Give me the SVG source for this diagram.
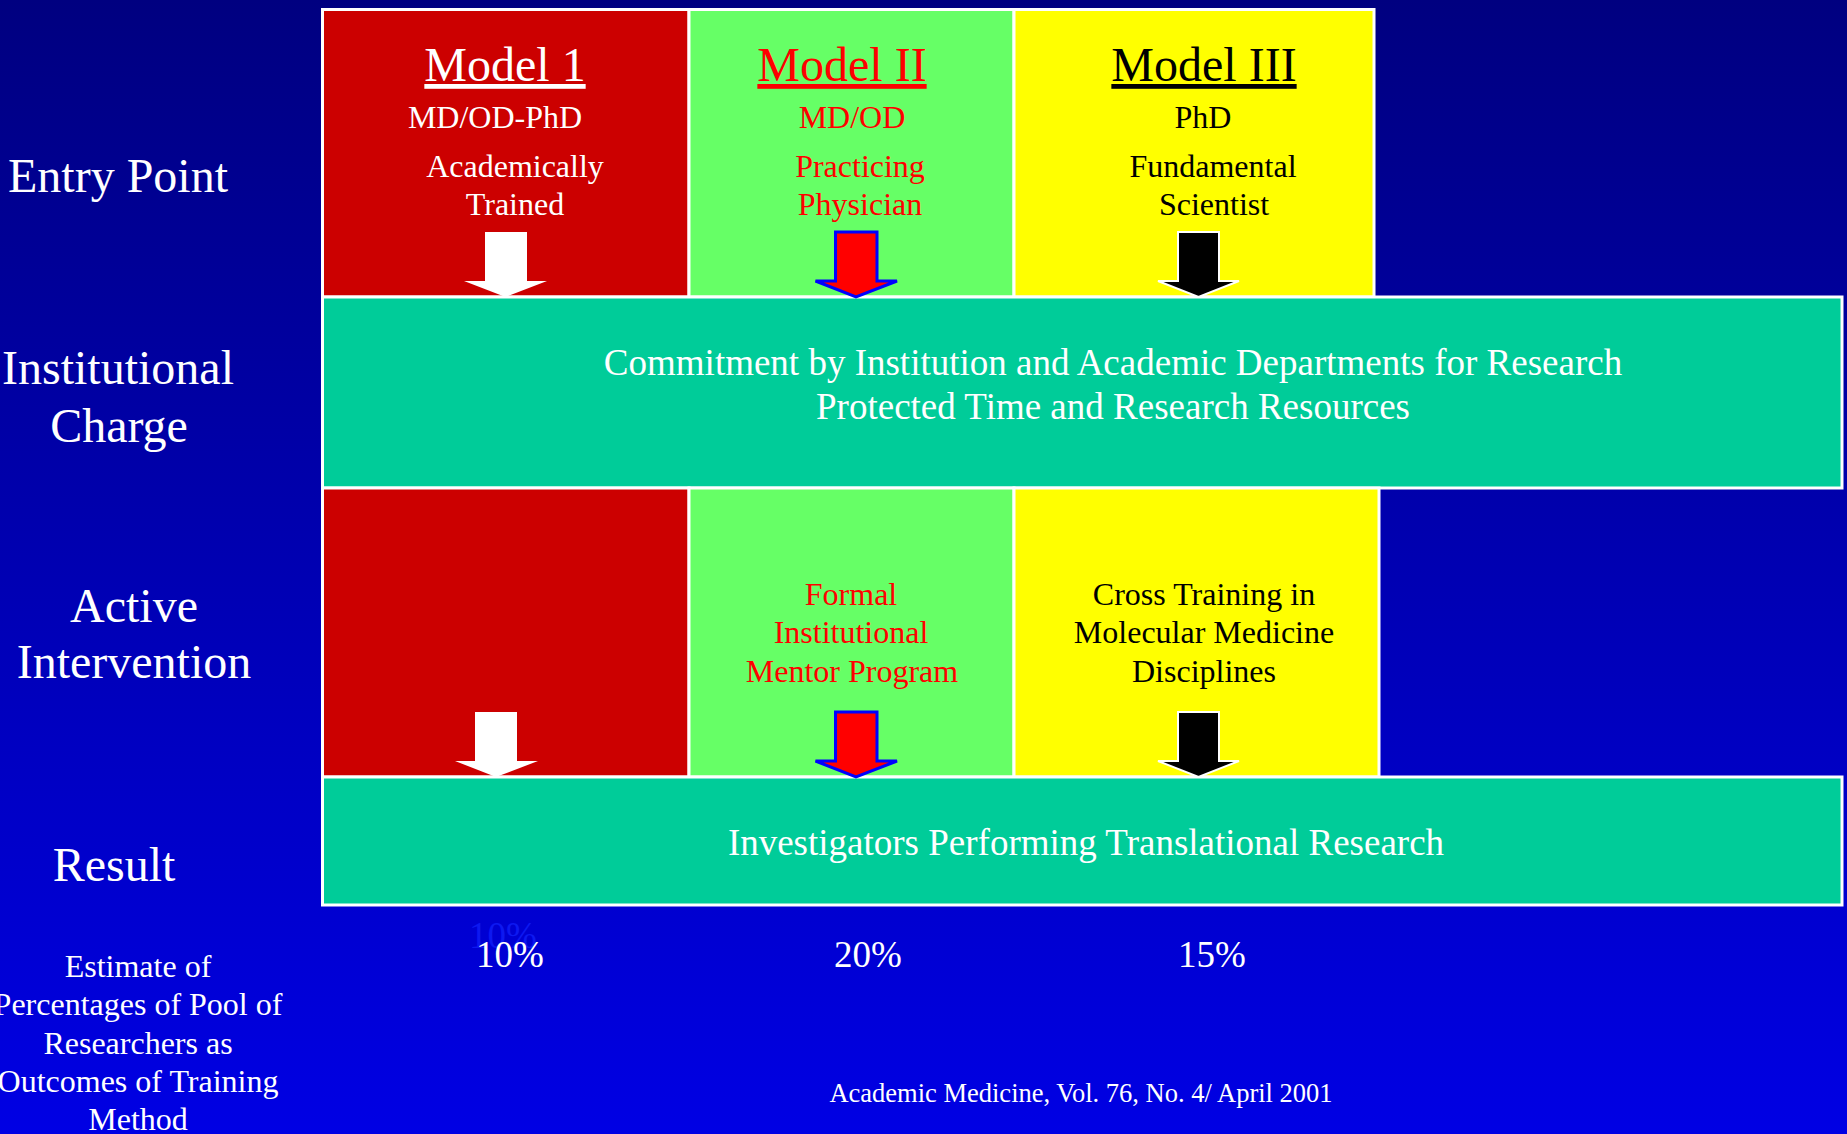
<svg xmlns="http://www.w3.org/2000/svg" width="1847" height="1134" viewBox="0 0 1847 1134">
<defs>
<linearGradient id="bg" x1="0" y1="0" x2="0" y2="1">
<stop offset="0" stop-color="#000080"/>
<stop offset="1" stop-color="#0000E4"/>
</linearGradient>
<style>
text{font-family:"Liberation Serif","Times New Roman",serif;text-anchor:middle}
.box{stroke:#FFFFFF;stroke-width:3}
.red{fill:#CC0000}
.green{fill:#66FF66}
.yellow{fill:#FFFF00}
.teal{fill:#00CC99}
.lbl{fill:#FFFFFF;font-size:48px}
.title{font-size:48px;text-decoration:underline}
.sub{font-size:32px}
.wt{fill:#FFFFFF}
.rt{fill:#FF0000}
.bt{fill:#000000}
.band{fill:#FFFFFF;font-size:37px}
.pct{fill:#FFFFFF;font-size:37px}
.aw{fill:#FFFFFF}
.ar{fill:#FF0000;stroke:#0000FF;stroke-width:3}
.ab{fill:#000000;stroke:#FFFFFF;stroke-width:2}
</style>
</defs>
<rect x="0" y="0" width="1847" height="1134" fill="url(#bg)"/>

<g id="row-labels">
<text class="lbl" x="118" y="192">Entry Point</text>
<text class="lbl" x="118" y="384">Institutional</text>
<text class="lbl" x="119" y="442">Charge</text>
<text class="lbl" x="134" y="622">Active</text>
<text class="lbl" x="134" y="678">Intervention</text>
<text class="lbl" x="114" y="881">Result</text>
<text class="wt sub" x="138" y="977">Estimate of</text>
<text class="wt sub" x="138" y="1015">Percentages of Pool of</text>
<text class="wt sub" x="138" y="1054">Researchers as</text>
<text class="wt sub" x="138" y="1092">Outcomes of Training</text>
<text class="wt sub" x="138" y="1130">Method</text>
</g>

<g id="model1-entry">
<rect class="box red" x="322.5" y="9.5" width="366.5" height="287.5"/>
<text class="wt title" x="505" y="81">Model 1</text>
<text class="wt sub" x="495" y="128">MD/OD-PhD</text>
<text class="wt sub" x="515" y="177">Academically</text>
<text class="wt sub" x="515" y="215">Trained</text>
</g>

<g id="model2-entry">
<rect class="box green" x="689" y="9.5" width="325" height="287.5"/>
<text class="rt title" x="842" y="81">Model II</text>
<text class="rt sub" x="852" y="128">MD/OD</text>
<text class="rt sub" x="860" y="177">Practicing</text>
<text class="rt sub" x="860" y="215">Physician</text>
</g>

<g id="model3-entry">
<rect class="box yellow" x="1014" y="9.5" width="360" height="287.5"/>
<text class="bt title" x="1204" y="81">Model III</text>
<text class="bt sub" x="1203" y="128">PhD</text>
<text class="bt sub" x="1213" y="177">Fundamental</text>
<text class="bt sub" x="1214" y="215">Scientist</text>
</g>

<g id="institutional-charge">
<rect class="box teal" x="322.5" y="297" width="1519.5" height="191"/>
<text class="band" x="1113" y="375">Commitment by Institution and Academic Departments for Research</text>
<text class="band" x="1113" y="419">Protected Time and Research Resources</text>
</g>

<g id="model1-intervention">
<rect class="box red" x="322.5" y="488" width="366.5" height="289"/>
</g>

<g id="model2-intervention">
<rect class="box green" x="689" y="488" width="325" height="289"/>
<text class="rt sub" x="851" y="605">Formal</text>
<text class="rt sub" x="851" y="643">Institutional</text>
<text class="rt sub" x="852" y="682">Mentor Program</text>
</g>

<g id="model3-intervention">
<rect class="box yellow" x="1014" y="488" width="365" height="289"/>
<text class="bt sub" x="1204" y="605">Cross Training in</text>
<text class="bt sub" x="1204" y="643">Molecular Medicine</text>
<text class="bt sub" x="1204" y="682">Disciplines</text>
</g>

<g id="result">
<rect class="box teal" x="322.5" y="777" width="1519.5" height="128"/>
<text class="band" x="1086" y="855">Investigators Performing Translational Research</text>
</g>

<g id="connectors">
<polygon class="aw" points="485,232 527,232 527,281 547,281 505.5,297 464,281 485,281"/>
<polygon class="ar" points="835.5,232 877,232 877,281 897,281 856,297 815.5,281 835.5,281"/>
<polygon class="ab" points="1178,232 1219,232 1219,281 1239,281 1198.5,297 1158,281 1178,281"/>
<polygon class="aw" points="475,712 517,712 517,761 538,761 496,777 455,761 475,761"/>
<polygon class="ar" points="835.5,712 877,712 877,761 897,761 856,777 815.5,761 835.5,761"/>
<polygon class="ab" points="1178,712 1219,712 1219,761 1239,761 1198.5,777 1158,761 1178,761"/>
</g>

<g id="percentages">
<text class="pct" x="503" y="948" fill="#0D18F0" style="fill:#0D18F0">10%</text>
<text class="pct" x="510" y="967">10%</text>
<text class="pct" x="868" y="967">20%</text>
<text class="pct" x="1212" y="967">15%</text>
</g>

<g id="citation">
<text class="wt" x="1081" y="1102" font-size="26.5">Academic Medicine, Vol. 76, No. 4/ April 2001</text>
</g>
</svg>
